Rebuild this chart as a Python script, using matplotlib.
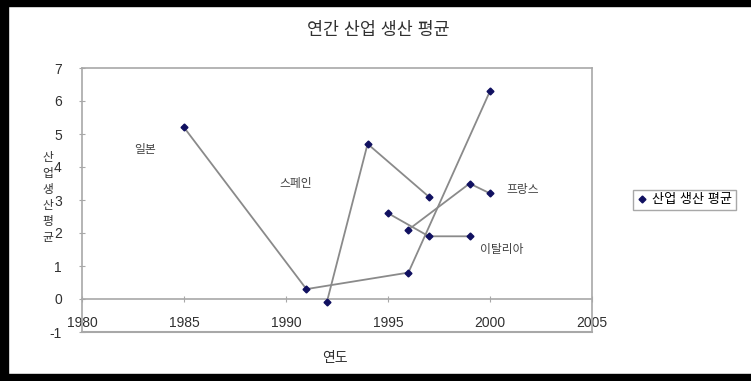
import matplotlib
matplotlib.use("Agg")
import matplotlib.pyplot as plt
from matplotlib.patches import Rectangle
from matplotlib.lines import Line2D

plt.rcParams['font.family'] = ['Liberation Sans', 'Noto Sans CJK KR', 'DejaVu Sans']
plt.rcParams['axes.unicode_minus'] = False

# 국가별 산업 생산 평균 (연도, 값)
japan_years = [1985, 1991, 1996, 2000]
japan_vals = [5.2, 0.3, 0.8, 6.3]
spain_years = [1992, 1994, 1997]
spain_vals = [-0.1, 4.7, 3.1]
italy_years = [1995, 1997, 1999]
italy_vals = [2.6, 1.9, 1.9]
france_years = [1996, 1999, 2000]
france_vals = [2.1, 3.5, 3.2]

labels = ["일본", "스페인", "프랑스", "이탈리아"]
label_pos = [(1983.1, 4.5), (1990.5, 3.5), (2001.6, 3.3), (2000.6, 1.5)]

x_ticks = [1980, 1985, 1990, 1995, 2000, 2005]
y_ticks = [-1, 0, 1, 2, 3, 4, 5, 6, 7]

LINE_COLOR = "#8a8a8a"
MARK_COLOR = "#101060"
AXIS_COLOR = "#a8a8a8"
TEXT_COLOR = "#404040"

fig = plt.figure(figsize=(7.51, 3.81), dpi=100)
ax = fig.add_axes([82 / 751, 1 - 332 / 381, 510 / 751, 264 / 381])

series = [(japan_years, japan_vals), (spain_years, spain_vals),
          (italy_years, italy_vals), (france_years, france_vals)]
for xs, ys in series:
    ax.plot(xs, ys, "-", color=LINE_COLOR, lw=1.3, zorder=2)
    ax.plot(xs, ys, "D", color=MARK_COLOR, ms=3.5, zorder=3)

for txt, (tx, ty) in zip(labels, label_pos):
    ax.text(tx, ty, txt, fontsize=8.5, color=TEXT_COLOR, ha="center", va="center")

ax.set_xlim(1980, 2005)
ax.set_ylim(-1, 7)
ax.set_xticks(x_ticks)
ax.set_yticks(y_ticks)

# 가로축은 y=0에서 교차 (엑셀 스타일)
ax.spines["bottom"].set_position(("data", 0))
for s in ax.spines.values():
    s.set_color(AXIS_COLOR)
    s.set_linewidth(1.2)
ax.plot([1980, 2005], [-1, -1], color=AXIS_COLOR, lw=1.5, clip_on=False)

ax.tick_params(axis="x", direction="inout", length=5, color=AXIS_COLOR,
               pad=10, labelsize=10, labelcolor="#303030")
ax.tick_params(axis="y", direction="inout", length=5, color=AXIS_COLOR,
               pad=12, labelsize=10, labelcolor="#303030")

fig.text(378 / 751, 1 - 30 / 381, "연간 산업 생산 평균", ha="center", va="center",
         fontsize=12.5, color="#303030")
# 세로 축 제목: 한 글자씩 세로로
for i, ch in enumerate("산업생산평균"):
    fig.text(48 / 751, 1 - (158 + 16 * i) / 381, ch, ha="center", va="center",
             fontsize=8.5, color="#303030")
fig.text(335 / 751, 1 - 358 / 381, "연도", ha="center", va="center",
         fontsize=10, color="#303030")

handle = Line2D([], [], marker="D", color=MARK_COLOR, ls="none", ms=3.5)
leg = fig.legend([handle], ["산업 생산 평균"], loc="center left",
                 bbox_to_anchor=(626 / 751, 1 - 200 / 381), fontsize=9.5,
                 handlelength=0.8, handletextpad=0.4, borderpad=0.3,
                 fancybox=False, framealpha=1)
leg.get_frame().set_edgecolor(AXIS_COLOR)
leg.get_frame().set_linewidth(1.0)

# 바깥 검은 테두리
W, H = 751, 381
for (x0, y0, w, h) in [(0, H - 6, W, 6), (0, 0, 8, H), (0, 0, W, 7)]:
    fig.patches.append(Rectangle((x0 / W, y0 / H), w / W, h / H, transform=fig.transFigure,
                                 color="black", zorder=10))

fig.savefig("out.png", dpi=100)
